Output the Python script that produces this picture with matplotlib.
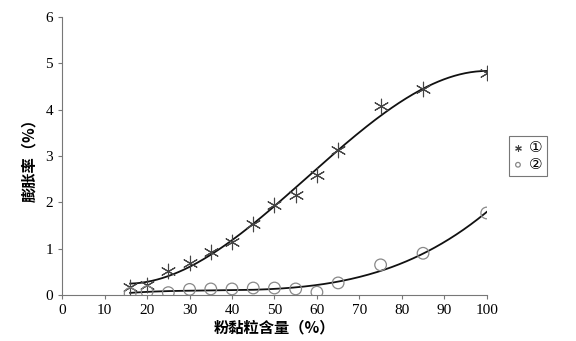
import numpy as np
import matplotlib.pyplot as plt

plt.rcParams['font.family'] = ['Liberation Serif', 'Noto Sans CJK SC']

# silt-clay content (%) and swelling ratio (%)
x1 = [16, 20, 25, 30, 35, 40, 45, 50, 55, 60, 65, 75, 85, 100]
y1 = [0.18, 0.22, 0.52, 0.70, 0.93, 1.15, 1.53, 1.95, 2.15, 2.60, 3.13, 4.07, 4.45, 4.80]
x2 = [16, 20, 25, 30, 35, 40, 45, 50, 55, 60, 65, 75, 85, 100]
y2 = [0.03, 0.07, 0.05, 0.12, 0.13, 0.13, 0.15, 0.15, 0.13, 0.06, 0.26, 0.65, 0.90, 1.77]
labels = ['①', '②']

fig = plt.figure(figsize=(5.76, 3.41), dpi=100)
ax = fig.add_axes([0.108, 0.135, 0.737, 0.815])

# trend lines (cubic fit like the spreadsheet trendline)
xs = np.linspace(16, 100, 200)
p1 = np.polyfit(x1, y1, 3)
p2 = np.polyfit(x2, y2, 3)
ax.plot(xs, np.polyval(p1, xs), color='#111111', lw=1.3)
ax.plot(xs, np.polyval(p2, xs), color='#111111', lw=1.3)

ax.scatter(x1, y1, marker=(6, 2, 0), s=110, color='#444444', linewidths=0.8,
           label=labels[0], zorder=3)
ax.scatter(x2, y2, marker='o', s=70, facecolors='none', edgecolors='#888888',
           linewidths=0.9, label=labels[1], zorder=3)

ax.set_xlim(0, 100)
ax.set_ylim(0, 6)
ax.set_xticks(range(0, 101, 10))
ax.set_yticks(range(0, 7))
for s in ['top', 'right']:
    ax.spines[s].set_visible(False)
for s in ['left', 'bottom']:
    ax.spines[s].set_color('#777777')
    ax.spines[s].set_linewidth(0.8)
ax.tick_params(colors='#777777', labelcolor='black', labelsize=11, length=3, width=0.8)

ax.set_xlabel('粉黏粒含量（%）', family=['Noto Sans CJK SC'], fontsize=11,
              fontweight='bold', labelpad=2)
ax.set_ylabel('膨胀率（%）', family=['Noto Sans CJK SC'], fontsize=11,
              fontweight='bold', labelpad=6)

leg = ax.legend(loc='center left', bbox_to_anchor=(1.052, 0.5), borderaxespad=0,
                frameon=True, fancybox=False, edgecolor='#555555', markerscale=0.4,
                handlelength=0.6, handletextpad=0.4, borderpad=0.3,
                labelspacing=0.1, prop={'family': ['DejaVu Sans'], 'size': 11})
leg.get_frame().set_linewidth(0.8)

fig.savefig('out.png', dpi=100)
